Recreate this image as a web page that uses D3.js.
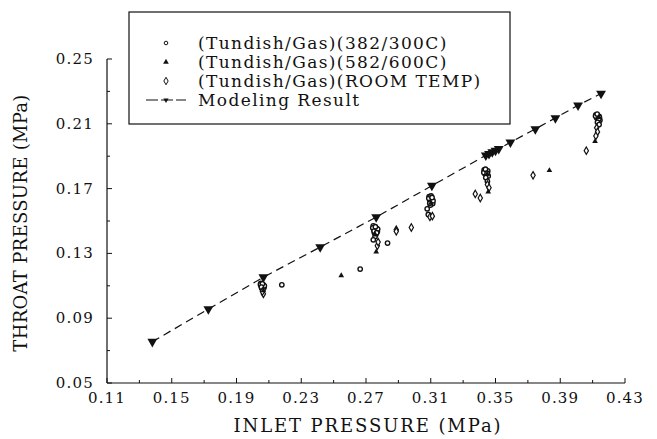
<!DOCTYPE html>
<html>
<head>
<meta charset="utf-8">
<script src="https://cdn.jsdelivr.net/npm/d3@7"></script>
<style>
  body { margin: 0; background: #fff; }
  svg text { font-family: "DejaVu Serif", serif; fill: #111; }
</style>
</head>
<body>
<div id="chart"></div>
<script>
// axis ticks
const xTicks = [0.11, 0.15, 0.19, 0.23, 0.27, 0.31, 0.35, 0.39, 0.43];
const yTicks = [0.05, 0.09, 0.13, 0.17, 0.21, 0.25];

// modeling result (dashed line + down triangles)
const modelX = [0.138, 0.1726, 0.2066, 0.2417, 0.2763, 0.3107, 0.344, 0.346, 0.348, 0.350, 0.352, 0.3592, 0.3746, 0.387, 0.401, 0.4152];
const modelY = [0.0755, 0.0956, 0.1153, 0.1339, 0.1524, 0.1718, 0.1905, 0.1915, 0.1925, 0.1935, 0.1945, 0.1986, 0.2068, 0.2136, 0.2214, 0.2287];

// (Tundish/Gas)(382/300C) - circles
const s1X = [0.2050, 0.2058, 0.2066, 0.2052, 0.2062, 0.2070, 0.2056, 0.2064, 0.2048, 0.2072, 0.2060, 0.2054, 0.2180,
  0.2745, 0.2755, 0.2765, 0.2748, 0.2760, 0.2770, 0.2752, 0.2762, 0.2756, 0.2742, 0.2772, 0.2750, 0.2766, 0.2758, 0.2745, 0.2664, 0.2833,
  0.3090, 0.3100, 0.3108, 0.3095, 0.3105, 0.3112, 0.3098, 0.3088, 0.3114, 0.3102, 0.3094, 0.3108, 0.3078, 0.3085,
  0.3430, 0.3440, 0.3450, 0.3435, 0.3445, 0.3455, 0.3428, 0.3452, 0.3438, 0.3448, 0.3440, 0.3450,
  0.4120, 0.4130, 0.4140, 0.4125, 0.4135, 0.4145, 0.4118, 0.4142, 0.4128, 0.4138, 0.4130, 0.4140];
const s1Y = [0.1115, 0.1110, 0.1105, 0.1100, 0.1095, 0.1090, 0.1085, 0.1078, 0.1108, 0.1100, 0.1112, 0.1092, 0.1106,
  0.1470, 0.1460, 0.1455, 0.1448, 0.1440, 0.1435, 0.1428, 0.1420, 0.1405, 0.1458, 0.1450, 0.1438, 0.1428, 0.1465, 0.1384, 0.1203, 0.1364,
  0.1650, 0.1640, 0.1632, 0.1625, 0.1615, 0.1608, 0.1598, 0.1640, 0.1625, 0.1655, 0.1610, 0.1645, 0.1575, 0.1540,
  0.1815, 0.1808, 0.1800, 0.1792, 0.1785, 0.1778, 0.1800, 0.1810, 0.1820, 0.1795, 0.1768, 0.1745,
  0.2155, 0.2150, 0.2145, 0.2138, 0.2130, 0.2122, 0.2148, 0.2140, 0.2160, 0.2128, 0.2110, 0.2095];

// (Tundish/Gas)(582/600C) - small triangles
const s2X = [0.2066, 0.2547, 0.2763, 0.2758, 0.3100, 0.3455, 0.3448, 0.3833, 0.4115, 0.4138];
const s2Y = [0.1070, 0.1163, 0.1310, 0.1415, 0.1610, 0.1680, 0.1790, 0.1812, 0.1992, 0.2140];

// (Tundish/Gas)(ROOM TEMP) - diamonds
const s3X = [0.2066, 0.2060, 0.2770, 0.2775, 0.2887, 0.2887, 0.2980, 0.3095, 0.3110, 0.3375, 0.3406,
  0.3450, 0.3460, 0.3732, 0.4061, 0.4125, 0.4130, 0.4120];
const s3Y = [0.1050, 0.1065, 0.1347, 0.1370, 0.1446, 0.1436, 0.1460, 0.1525, 0.1530, 0.1667, 0.1642,
  0.1725, 0.1705, 0.1782, 0.1934, 0.2075, 0.2050, 0.2025];

const legendLabels = ["(Tundish/Gas)(382/300C)", "(Tundish/Gas)(582/600C)", "(Tundish/Gas)(ROOM TEMP)", "Modeling Result"];

const width = 657, height = 439;
const margin = { top: 59, right: 32, bottom: 56, left: 107 };

const svg = d3.select("#chart").append("svg")
  .attr("width", width)
  .attr("height", height);

const x = d3.scaleLinear().domain([0.11, 0.43]).range([margin.left, width - margin.right]);
const y = d3.scaleLinear().domain([0.05, 0.25]).range([height - margin.bottom, margin.top]);

const x0 = x(0.11), y0 = y(0.05);

// axes (ticks pointing inward)
const xMinor = d3.range(0.13, 0.43, 0.04);
const yMinor = d3.range(0.07, 0.25, 0.04);

const xAxis = svg.append("g").attr("transform", `translate(0,${y0})`);
xAxis.append("line").attr("x1", x0).attr("x2", x(0.43)).attr("stroke", "#111").attr("stroke-width", 1.2);
xAxis.selectAll(".maj").data(xTicks).enter().append("line")
  .attr("x1", d => x(d)).attr("x2", d => x(d)).attr("y1", 0).attr("y2", -5)
  .attr("stroke", "#111").attr("stroke-width", 1);
xAxis.selectAll(".min").data(xMinor).enter().append("line")
  .attr("x1", d => x(d)).attr("x2", d => x(d)).attr("y1", 0).attr("y2", -3)
  .attr("stroke", "#111").attr("stroke-width", 1);
xAxis.selectAll("text").data(xTicks).enter().append("text")
  .attr("x", d => x(d)).attr("y", 20)
  .attr("text-anchor", "middle").attr("font-size", 15)
  .attr("letter-spacing", 1.2)
  .text(d => d.toFixed(2));

const yAxis = svg.append("g").attr("transform", `translate(${x0},0)`);
yAxis.append("line").attr("y1", y0).attr("y2", y(0.25)).attr("stroke", "#111").attr("stroke-width", 1.2);
yAxis.selectAll(".maj").data(yTicks).enter().append("line")
  .attr("y1", d => y(d)).attr("y2", d => y(d)).attr("x1", 0).attr("x2", 5)
  .attr("stroke", "#111").attr("stroke-width", 1);
yAxis.selectAll(".min").data(yMinor).enter().append("line")
  .attr("y1", d => y(d)).attr("y2", d => y(d)).attr("x1", 0).attr("x2", 3)
  .attr("stroke", "#111").attr("stroke-width", 1);
yAxis.selectAll("text").data(yTicks).enter().append("text")
  .attr("x", -13).attr("y", d => y(d) + 5)
  .attr("text-anchor", "end").attr("font-size", 15)
  .attr("letter-spacing", 1.2)
  .text(d => d.toFixed(2));

// axis titles
svg.append("text")
  .attr("x", x(0.27) + 2).attr("y", 432)
  .attr("text-anchor", "middle").attr("font-size", 18)
  .attr("letter-spacing", 1.9)
  .text("INLET PRESSURE (MPa)");
svg.append("text")
  .attr("transform", `translate(27,${y(0.15) + 2}) rotate(-90)`)
  .attr("text-anchor", "middle").attr("font-size", 18)
  .attr("letter-spacing", 0.3)
  .text("THROAT PRESSURE (MPa)");

// modeling line
const model = modelX.map((d, i) => ({ x: d, y: modelY[i] }));
svg.append("path")
  .datum(model)
  .attr("fill", "none")
  .attr("stroke", "#111")
  .attr("stroke-width", 1.2)
  .attr("stroke-dasharray", "8,5")
  .attr("d", d3.line().x(d => x(d.x)).y(d => y(d.y)));

const downTri = d3.symbol().type(d3.symbolTriangle).size(42);
svg.selectAll(".model").data(model).enter().append("path")
  .attr("d", downTri)
  .attr("transform", d => `translate(${x(d.x)},${y(d.y)}) rotate(180)`)
  .attr("fill", "#111");

// experimental points
const s1 = s1X.map((d, i) => ({ x: d, y: s1Y[i] }));
const s2 = s2X.map((d, i) => ({ x: d, y: s2Y[i] }));
const s3 = s3X.map((d, i) => ({ x: d, y: s3Y[i] }));

svg.selectAll(".s1").data(s1).enter().append("circle")
  .attr("cx", d => x(d.x)).attr("cy", d => y(d.y)).attr("r", 2.2)
  .attr("fill", "#fff").attr("stroke", "#111").attr("stroke-width", 1.4);

const diamond = d3.symbol().type(d3.symbolDiamond).size(16);
svg.selectAll(".s3").data(s3).enter().append("path")
  .attr("d", diamond)
  .attr("transform", d => `translate(${x(d.x)},${y(d.y)})`)
  .attr("fill", "#fff").attr("stroke", "#111").attr("stroke-width", 1.2);

const smallTri = d3.symbol().type(d3.symbolTriangle).size(14);
svg.selectAll(".s2").data(s2).enter().append("path")
  .attr("d", smallTri)
  .attr("transform", d => `translate(${x(d.x)},${y(d.y)})`)
  .attr("fill", "#111");

// legend
const legend = svg.append("g");
legend.append("rect")
  .attr("x", 129).attr("y", 12).attr("width", 381).attr("height", 112)
  .attr("fill", "#fff").attr("stroke", "#111").attr("stroke-width", 1.2);
const rowY = [43, 62, 81, 100];
legend.selectAll("text").data(legendLabels).enter().append("text")
  .attr("x", 198).attr("y", (d, i) => rowY[i] + 6)
  .attr("font-size", 17)
  .attr("letter-spacing", 1.4)
  .text(d => d);
legend.append("circle").attr("cx", 166).attr("cy", rowY[0]).attr("r", 1.8)
  .attr("fill", "#fff").attr("stroke", "#111").attr("stroke-width", 1);
legend.append("path").attr("d", smallTri)
  .attr("transform", `translate(166,${rowY[1]})`).attr("fill", "#111");
legend.append("path").attr("d", diamond)
  .attr("transform", `translate(166,${rowY[2]})`)
  .attr("fill", "#fff").attr("stroke", "#111").attr("stroke-width", 1);
legend.append("line")
  .attr("x1", 146).attr("x2", 186).attr("y1", rowY[3]).attr("y2", rowY[3])
  .attr("stroke", "#111").attr("stroke-width", 1.2).attr("stroke-dasharray", "12,3");
legend.append("path").attr("d", d3.symbol().type(d3.symbolTriangle).size(12))
  .attr("transform", `translate(166,${rowY[3]}) rotate(180)`).attr("fill", "#111");
</script>
</body>
</html>
